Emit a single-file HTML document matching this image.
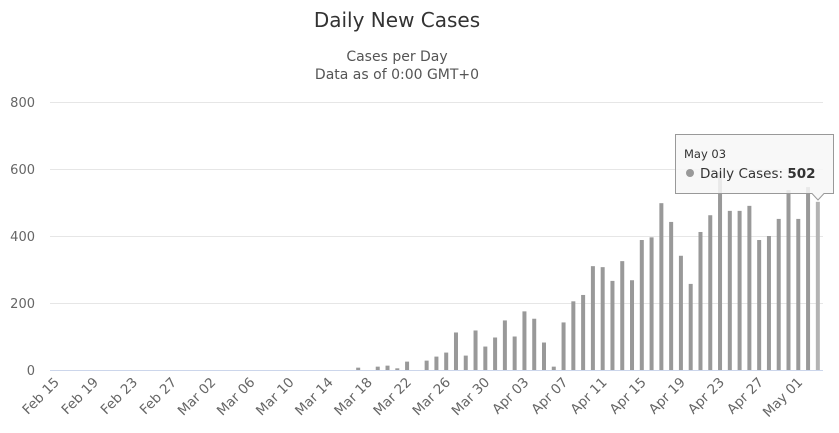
<!DOCTYPE html>
<html><head><meta charset="utf-8"><style>
html,body{margin:0;padding:0;background:#fff;}
svg{display:block;font-family:"DejaVu Sans","Liberation Sans",sans-serif;}
</style></head><body>
<svg width="839" height="433" viewBox="0 0 839 433" xmlns="http://www.w3.org/2000/svg">
<text x="397" y="27" text-anchor="middle" font-size="20" fill="#333">Daily New Cases</text>
<text x="397" y="61" text-anchor="middle" font-size="14" fill="#555">Cases per Day</text>
<text x="397" y="79" text-anchor="middle" font-size="14" fill="#555">Data as of 0:00 GMT+0</text>
<g stroke="#e6e6e6" stroke-width="1">
<line x1="50" x2="823" y1="102.5" y2="102.5"/>
<line x1="50" x2="823" y1="169.5" y2="169.5"/>
<line x1="50" x2="823" y1="236.5" y2="236.5"/>
<line x1="50" x2="823" y1="303.5" y2="303.5"/>
</g>
<g font-size="13" fill="#666" text-anchor="end">
<text x="35" y="107">800</text><text x="35" y="174">600</text><text x="35" y="241">400</text><text x="35" y="308">200</text><text x="35" y="375">0</text>
</g>
<g id="bars" fill="#999"></g>
<line x1="50" x2="823" y1="370.5" y2="370.5" stroke="#ccd6eb" stroke-width="1"/>
<g id="xl" font-size="13.5" fill="#666"></g>
<g>
<path d="M675.5,134.5 H833.5 V193.5 H824 L818,200 L812,193.5 H675.5 Z" fill="rgba(247,247,247,0.85)" stroke="#999" stroke-width="1"/>
<text x="684" y="158" font-size="11.5" fill="#333">May 03</text>
<circle cx="690" cy="173" r="4" fill="#999"/>
<text x="700" y="178" font-size="13.5" fill="#333">Daily Cases: <tspan font-weight="bold">502</tspan></text>
</g>
</svg>
<script>
var v={31:7,33:10,34:13,35:5,36:25,38:28,39:40,40:52,41:112,42:43,43:118,44:70,45:97,46:148,47:100,48:175,49:153,50:82,51:10,52:142,53:205,54:224,55:310,56:307,57:266,58:325,59:268,60:388,61:396,62:498,63:442,64:341,65:257,66:412,67:462,68:590,69:475,70:475,71:490,72:388,73:400,74:451,75:537,76:451,77:546,78:502};
var ns="http://www.w3.org/2000/svg",b=document.getElementById("bars"),xl=document.getElementById("xl");
for(var d in v){var x=55+9.78*d,h=v[d]*0.335;var r=document.createElementNS(ns,"rect");
r.setAttribute("x",x-2);r.setAttribute("width",4);r.setAttribute("y",370-h);r.setAttribute("height",h);
if(d==78)r.setAttribute("fill","#b3b3b3");
b.appendChild(r);}
var labs=["Feb 15","Feb 19","Feb 23","Feb 27","Mar 02","Mar 06","Mar 10","Mar 14","Mar 18","Mar 22","Mar 26","Mar 30","Apr 03","Apr 07","Apr 11","Apr 15","Apr 19","Apr 23","Apr 27","May 01"];
for(var i=0;i<labs.length;i++){var x=55+9.78*4*i+5;var t=document.createElementNS(ns,"text");
t.setAttribute("x",x);t.setAttribute("y",383);t.setAttribute("text-anchor","end");
t.setAttribute("transform","rotate(-45 "+x+" 383)");t.textContent=labs[i];xl.appendChild(t);}
</script>
</body></html>
